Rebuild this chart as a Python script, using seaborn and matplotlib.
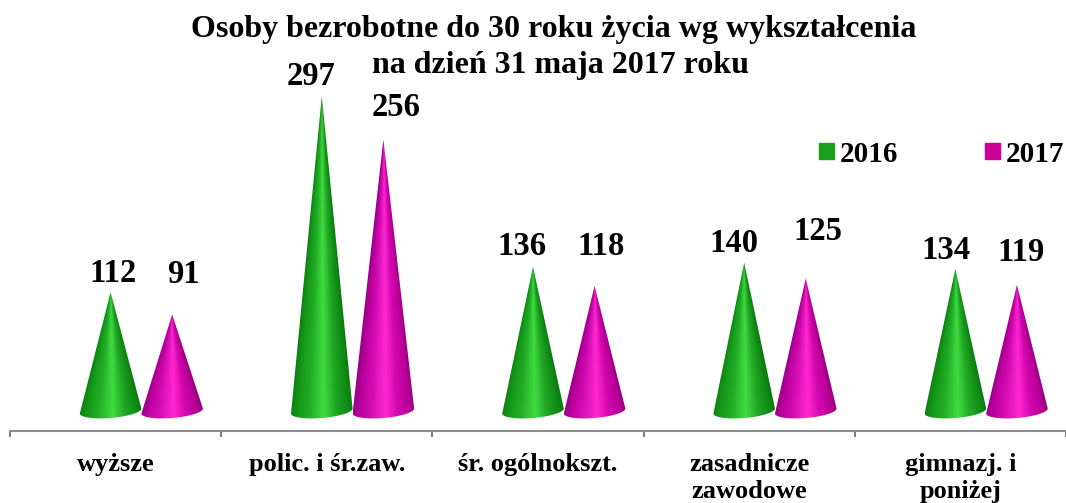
import numpy as np
import pandas as pd
import matplotlib
matplotlib.use('Agg')
import matplotlib.pyplot as plt
from matplotlib.colors import LinearSegmentedColormap
from matplotlib.patches import Polygon, Rectangle
import seaborn as sns

# Data
categories = ['wyższe', 'polic. i śr.zaw.', 'śr. ogólnokszt.', 'zasadnicze\nzawodowe', 'gimnazj. i\nponiżej']
years = ['2016', '2017']
values_2016 = [112, 297, 136, 140, 134]
values_2017 = [91, 256, 118, 125, 119]

df = pd.DataFrame({
    'cat': categories * 2,
    'year': ['2016'] * 5 + ['2017'] * 5,
    'value': values_2016 + values_2017,
})

W, H = 1066, 503
SERIF = 'Liberation Serif'
GREEN = ['#0f7f14', '#149a18', '#22ad26', '#40dc40', '#22a826', '#118c16', '#0c7a10']
MAGENTA = ['#990088', '#bb009e', '#d50db5', '#ff28d0', '#d408b0', '#b80098', '#99007f']
stops = [0.0, 0.12, 0.3, 0.53, 0.72, 0.9, 1.0]

sns.set_theme(style='white')
plt.rcParams['font.family'] = [SERIF, 'DejaVu Serif']

fig = plt.figure(figsize=(W / 100, H / 100), dpi=100)
axis_px = 431
ax = fig.add_axes([10 / W, (H - axis_px) / H, (W - 10) / W, axis_px / H])

# invisible bars only give the cone positions
sns.barplot(data=df, x='cat', y='value', hue='year', order=categories, hue_order=years,
            palette=['#1aa01a', '#cc0099'], width=0.583, gap=0, legend=False, ax=ax)

pitch = 211.4
px_per_unit = 1.06
base_px = 411
xlim = (-131.5 / pitch, (W - 141.5) / pitch)
ylim = ((base_px - axis_px) / px_per_unit, base_px / px_per_unit)

# label baseline offset from the apex, in pixels
offsets = [[(2, 10), (-11, 11), (-11, 12), (-10, 11), (-9, 10)],
           [(11, 32), (13, 24), (7, 31), (12, 39), (4, 24)]]

for s, container in enumerate(ax.containers):
    cmap = LinearSegmentedColormap.from_list('cone', list(zip(stops, [GREEN, MAGENTA][s])))
    for k, bar in enumerate(container):
        x0 = bar.get_x()
        w = bar.get_width()
        h = bar.get_height()
        xc = x0 + w / 2
        bar.set_visible(False)
        ry = 7 / px_per_unit
        tilt = 2.5 / px_per_unit  # base ellipse leans a little, left end lower
        t = np.linspace(np.pi, 2 * np.pi, 60)
        arc = np.column_stack([xc + w / 2 * np.cos(t), ry * np.sin(t) + tilt * np.cos(t)])
        outline = np.vstack([[xc, h], arc])
        clip = Polygon(outline, closed=True, transform=ax.transData)
        # shading runs around the cone, so it narrows towards the tip
        xs = np.linspace(x0, x0 + w, 120)
        ys = np.linspace(-ry - tilt, h, 300)
        gx, gy = np.meshgrid(xs, ys)
        half = np.maximum((h - gy) / h, 0.002) * w / 2
        u = np.clip((gx - xc) / half, -1, 1)
        im = ax.imshow(u, extent=(x0, x0 + w, -ry - tilt, h), origin='lower', aspect='auto',
                       cmap=cmap, vmin=-1, vmax=1, interpolation='bilinear', zorder=3)
        im.set_clip_path(clip)
        ax.annotate(str(int(h)), (xc, h), xytext=offsets[s][k], textcoords='offset pixels',
                    ha='center', va='baseline', fontsize=23.5, fontweight='bold', color='black',
                    annotation_clip=False, zorder=5)

ax.set_xlim(xlim)
ax.set_ylim(ylim)
ax.set_xlabel('')
ax.set_ylabel('')
ax.set_yticks([])
ax.set_xticks([i + xlim[0] + 0.5 for i in range(5)], categories)
ax.set_xticks([i + xlim[0] for i in range(6)], minor=True)
ax.tick_params(axis='x', which='major', length=0, pad=15.5, labelsize=19)
ax.tick_params(axis='x', which='minor', length=4.5, width=1.5, color='#808080', bottom=True)
for lab in ax.get_xticklabels():
    lab.set_fontweight('bold')
    lab.set_color('black')
    lab.set_linespacing(1.27)
    lab.set_verticalalignment('top')
sns.despine(ax=ax, left=True)
ax.spines['bottom'].set_color('#8c8c8c')
ax.spines['bottom'].set_linewidth(1.5)
ax.patch.set_alpha(0)

# title
fig.text(554 / W, 1 - 30 / H, 'Osoby bezrobotne do 30 roku życia wg wykształcenia', ha='center', va='center',
         fontsize=23, fontweight='bold', color='black')
fig.text(560 / W, 1 - 65 / H, 'na dzień 31 maja 2017 roku', ha='center', va='center',
         fontsize=23, fontweight='bold', color='black')

# legend
handles = [Rectangle((0, 0), 1, 1, color=c) for c in ['#1aa01a', '#cc0099']]
fig.legend(handles, years, loc='center left', bbox_to_anchor=(819 / W, 1 - 154 / H), ncol=2, frameon=False,
           prop={'family': SERIF, 'weight': 'bold', 'size': 21}, labelcolor='black',
           handlelength=0.5, handleheight=0.5, handletextpad=0.2, columnspacing=3.0,
           borderpad=0, borderaxespad=0)

fig.savefig('out.png', dpi=100)
